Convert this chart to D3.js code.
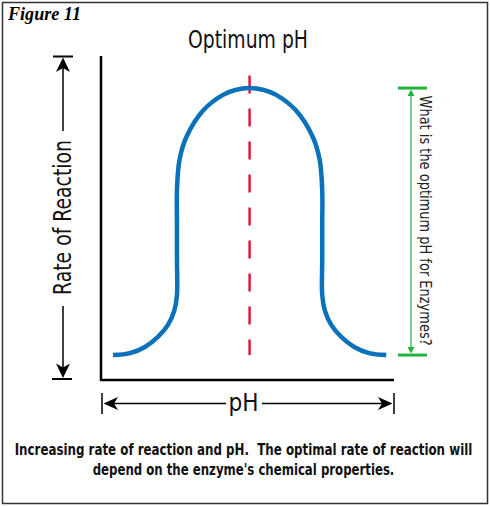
<!DOCTYPE html>
<html>
<head>
<meta charset="utf-8">
<script src="https://cdn.jsdelivr.net/npm/d3@7"></script>
<style>
  body { margin: 0; background: #fff; }
  svg { display: block; }
  text { white-space: pre; }
</style>
</head>
<body>
<svg id="chart"></svg>
<script>
// values (pH 0-14, rate 0-100)
const phValues = [0.57, 1.39, 2.10, 2.72, 3.20, 3.51, 3.63, 3.63, 3.63, 3.63, 3.75, 4.08, 4.90, 5.83, 6.42, 7.10,
                  7.78, 8.37, 9.30, 10.12, 10.45, 10.57, 10.57, 10.57, 10.57, 10.69, 11.00, 11.48, 12.10, 12.81, 13.63];
const rateValues = [7.7, 8.3, 10.2, 13.3, 17.0, 21.6, 26.2, 37.0, 47.8, 58.6, 67.9, 75.0, 83.3, 88.0, 89.5, 90.1,
                    89.5, 88.0, 83.3, 75.0, 67.9, 58.6, 47.8, 37.0, 26.2, 21.6, 17.0, 13.3, 10.2, 8.3, 7.7];
const optimumPH = 7.1;
const phDomain = [0, 14];
const rateDomain = [0, 100];

const title = "Optimum pH";
const yLabel = "Rate of Reaction";
const xLabel = "pH";
const question = "What is the optimum pH for Enzymes?";
const figureLabel = "Figure 11";
const captionLines = [
  "Increasing rate of reaction and pH.  The optimal rate of reaction will",
  "depend on the enzyme's chemical properties."
];

const width = 490;
const height = 506;
const sansNarrow = "'Liberation Sans Narrow', 'Arial Narrow', 'DejaVu Sans Condensed', sans-serif";

const svg = d3.select("#chart")
  .attr("width", width)
  .attr("height", height);

// frame
svg.append("rect")
  .attr("x", 2.5).attr("y", 2.5)
  .attr("width", width - 5).attr("height", height - 5)
  .attr("fill", "#fff")
  .attr("stroke", "#333")
  .attr("stroke-width", 1.5);

svg.append("text")
  .attr("x", 8).attr("y", 20)
  .attr("font-family", "'Liberation Serif', 'DejaVu Serif', serif")
  .attr("font-weight", "bold")
  .attr("font-style", "italic")
  .attr("font-size", 18)
  .attr("textLength", 73)
  .attr("lengthAdjust", "spacingAndGlyphs")
  .text(figureLabel);

const x = d3.scaleLinear().domain(phDomain).range([101, 394]);
const y = d3.scaleLinear().domain(rateDomain).range([380, 56]);

svg.append("text")
  .attr("x", 248).attr("y", 48)
  .attr("text-anchor", "middle")
  .attr("font-family", sansNarrow)
  .attr("font-size", 25)
  .attr("fill", "#111")
  .attr("textLength", 120)
  .attr("lengthAdjust", "spacingAndGlyphs")
  .text(title);

// axes (plain lines, no ticks)
svg.append("path")
  .attr("d", `M${x(0)},${y(100)}V${y(0)}H${x(14)}`)
  .attr("fill", "none")
  .attr("stroke", "#000")
  .attr("stroke-width", 2.5);

// dashed optimum line
svg.append("line")
  .attr("x1", x(optimumPH)).attr("x2", x(optimumPH))
  .attr("y1", y(94)).attr("y2", y(d3.min(rateValues)))
  .attr("stroke", "#e4163c")
  .attr("stroke-width", 2.5)
  .attr("stroke-dasharray", "18,15");

// curve
const points = phValues.map((p, i) => [p, rateValues[i]]);
const line = d3.line()
  .x(d => x(d[0]))
  .y(d => y(d[1]))
  .curve(d3.curveCatmullRom.alpha(0.5));

svg.append("path")
  .datum(points)
  .attr("d", line)
  .attr("fill", "none")
  .attr("stroke", "#0a72ba")
  .attr("stroke-width", 4.5);

// green bracket
const gx = 411;
const gTop = y(d3.max(rateValues));
const gBot = y(d3.min(rateValues));
const green = "#22b33c";
const bracket = svg.append("g").attr("stroke", green).attr("fill", green);
bracket.append("line").attr("x1", gx).attr("x2", gx).attr("y1", gTop + 6).attr("y2", gBot - 6).attr("stroke-width", 1.2);
bracket.append("line").attr("x1", gx - 13).attr("x2", gx + 16).attr("y1", gTop).attr("y2", gTop).attr("stroke-width", 3);
bracket.append("line").attr("x1", gx - 13).attr("x2", gx + 16).attr("y1", gBot).attr("y2", gBot).attr("stroke-width", 3);
bracket.append("path").attr("stroke", "none")
  .attr("d", `M${gx},${gTop + 1.5}L${gx - 3.5},${gTop + 8}L${gx + 3.5},${gTop + 8}Z`);
bracket.append("path").attr("stroke", "none")
  .attr("d", `M${gx},${gBot - 1.5}L${gx - 3.5},${gBot - 8}L${gx + 3.5},${gBot - 8}Z`);

svg.append("text")
  .attr("transform", `translate(420,${(gTop + gBot) / 2 - 1}) rotate(90)`)
  .attr("text-anchor", "middle")
  .attr("font-family", sansNarrow)
  .attr("font-size", 15)
  .attr("fill", "#222")
  .attr("textLength", 250)
  .attr("lengthAdjust", "spacingAndGlyphs")
  .text(question);

// y label with arrows
const ya = 63;
const yArrow = svg.append("g").attr("stroke", "#000").attr("fill", "#000");
yArrow.append("line").attr("x1", ya - 10).attr("x2", ya + 10).attr("y1", 56.5).attr("y2", 56.5).attr("stroke-width", 2);
yArrow.append("path").attr("stroke", "none")
  .attr("d", `M${ya},57.5L${ya - 7},72L${ya},68L${ya + 7},72Z`);
yArrow.append("line").attr("x1", ya).attr("x2", ya).attr("y1", 68).attr("y2", 131).attr("stroke-width", 1.5);
yArrow.append("line").attr("x1", ya).attr("x2", ya).attr("y1", 306).attr("y2", 368).attr("stroke-width", 1.5);
yArrow.append("path").attr("stroke", "none")
  .attr("d", `M${ya},378L${ya - 7},363.5L${ya},367.5L${ya + 7},363.5Z`);
yArrow.append("line").attr("x1", ya - 11).attr("x2", ya + 9).attr("y1", 379).attr("y2", 379).attr("stroke-width", 2);

svg.append("text")
  .attr("transform", `translate(${ya + 8},217.5) rotate(-90)`)
  .attr("text-anchor", "middle")
  .attr("font-family", sansNarrow)
  .attr("font-size", 25)
  .attr("fill", "#111")
  .attr("textLength", 155)
  .attr("lengthAdjust", "spacingAndGlyphs")
  .text(yLabel);

// x label with arrows
const xa = 403.5;
const xArrow = svg.append("g").attr("stroke", "#000").attr("fill", "#000");
xArrow.append("line").attr("x1", 102).attr("x2", 102).attr("y1", 393).attr("y2", 414).attr("stroke-width", 1.5);
xArrow.append("line").attr("x1", 394).attr("x2", 394).attr("y1", 393).attr("y2", 414).attr("stroke-width", 1.5);
xArrow.append("path").attr("stroke", "none")
  .attr("d", `M103.5,${xa}L118,${xa - 6.5}L114,${xa}L118,${xa + 6.5}Z`);
xArrow.append("path").attr("stroke", "none")
  .attr("d", `M392.5,${xa}L378,${xa - 6.5}L382,${xa}L378,${xa + 6.5}Z`);
xArrow.append("line").attr("x1", 114).attr("x2", 226).attr("y1", xa).attr("y2", xa).attr("stroke-width", 1.5);
xArrow.append("line").attr("x1", 262).attr("x2", 382).attr("y1", xa).attr("y2", xa).attr("stroke-width", 1.5);

svg.append("text")
  .attr("x", 243.5).attr("y", 411)
  .attr("text-anchor", "middle")
  .attr("font-family", sansNarrow)
  .attr("font-size", 24)
  .attr("fill", "#111")
  .attr("textLength", 30)
  .attr("lengthAdjust", "spacingAndGlyphs")
  .text(xLabel);

// caption: natural text, squeezed horizontally to the reference width
const captionWidths = [458, 302];
svg.selectAll("g.caption")
  .data(captionLines)
  .join("g")
  .attr("class", "caption")
  .each(function(d, i) {
    const g = d3.select(this);
    const t = g.append("text")
      .attr("x", 0).attr("y", 0)
      .attr("text-anchor", "middle")
      .attr("font-family", sansNarrow)
      .attr("font-weight", "bold")
      .attr("font-size", 15)
      .attr("fill", "#111")
      .text(d);
    const w = t.node().getComputedTextLength();
    const sx = captionWidths[i] / w;
    g.attr("transform", `translate(243.5,${455 + i * 20}) scale(${sx},1)`);
  });
</script>
</body>
</html>
